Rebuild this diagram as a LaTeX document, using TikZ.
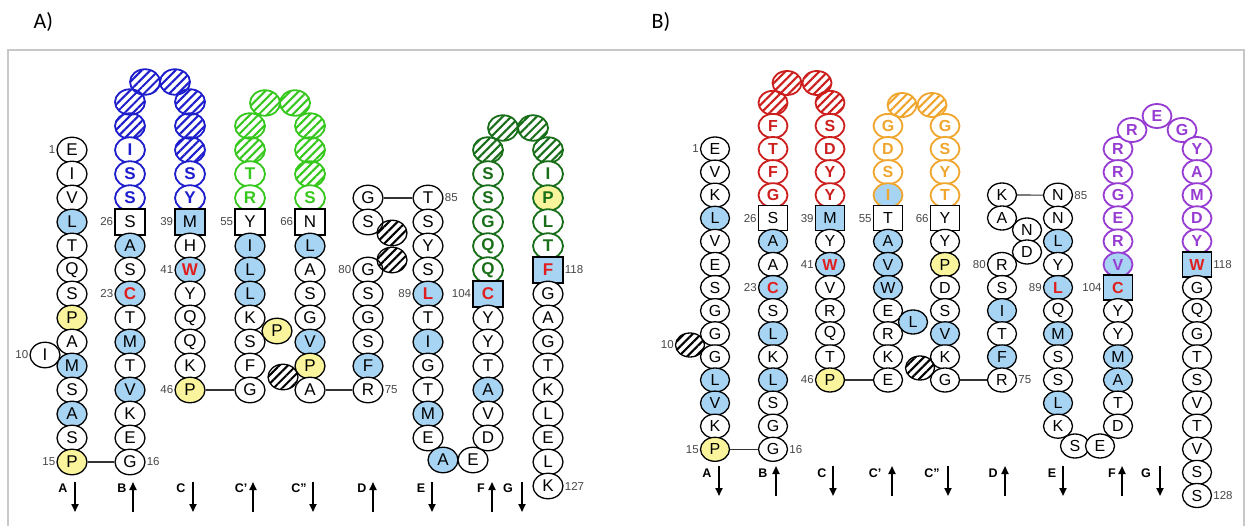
\documentclass[tikz,border=0pt]{standalone}
\usepackage{fontspec}
\setmainfont{Liberation Sans}
\newfontfamily\calib{Carlito}
\usetikzlibrary{shapes.geometric,patterns.meta,arrows.meta,positioning}
\definecolor{blueL}{RGB}{30,30,205}
\definecolor{lgreen}{RGB}{55,200,30}
\definecolor{dgreen}{RGB}{25,110,25}
\definecolor{redL}{RGB}{205,30,30}
\definecolor{orangeL}{RGB}{240,165,45}
\definecolor{purpleL}{RGB}{150,60,210}
\definecolor{lb}{RGB}{166,212,242}
\definecolor{yl}{RGB}{250,245,156}
\definecolor{redT}{RGB}{225,30,30}
\definecolor{numgray}{RGB}{70,70,70}
\definecolor{frameG}{RGB}{200,200,200}
\tikzset{
  res/.style={ellipse,draw,line width=1.3pt,inner sep=0pt,minimum width=\rw,minimum height=\rh,font=\lsz},
  r/.style={res,fill=white},
  rb/.style={res,fill=lb},
  ry/.style={res,fill=yl},
  rbr/.style={res,fill=lb,text=redT,font=\lsz\bfseries},
  bx/.style={rectangle,draw,line width=1.4pt,inner sep=0pt,minimum width=\bw,minimum height=\bh,fill=white,font=\lsz},
  bxb/.style={bx,fill=lb},
  bxr/.style={bx,fill=lb,text=redT,font=\lsz\bfseries},
  lp/.style={res,draw=#1,text=#1,line width=1.8pt,font=\lsz\bfseries,fill=white},
  hat/.style={res,draw=#1,line width=1.8pt,pattern={Lines[angle=45,distance=6pt,line width=2.1pt]},pattern color=#1},
  lB/.style={lp=blueL}, hB/.style={hat=blueL},
  lG/.style={lp=lgreen}, hG/.style={hat=lgreen},
  lD/.style={lp=dgreen}, hD/.style={hat=dgreen},
  lDy/.style={lp=dgreen,fill=yl},
  lR/.style={lp=redL}, hR/.style={hat=redL},
  lO/.style={lp=orangeL}, hO/.style={hat=orangeL},
  lOb/.style={lp=orangeL,fill=lb},
  lP/.style={lp=purpleL}, hP/.style={hat=purpleL},
  lPb/.style={lp=purpleL,fill=lb},
  hK/.style={hat=black,line width=1.3pt},
  num/.style={font=\fontsize{11.5}{11.5}\selectfont,text=numgray,inner sep=1pt},
  lab/.style={font=\fontsize{12.5}{12.5}\selectfont\bfseries,inner sep=0pt},
  arr/.style={line width=1.8pt,-{Triangle[length=8pt,width=7pt]}},
  link/.style={line width=1.2pt,draw=black!80}
}
\begin{document}
\begin{tikzpicture}[x=1pt,y=-1pt]
\useasboundingbox (0,0) rectangle (1249,526);
\draw[frameG,line width=2pt] (8,560) -- (8,50) -- (1244,50) -- (1244,560);
\node[font=\calib\fontsize{22}{22}\selectfont,anchor=west] (labA) at (30,22) {A)};
\node[font=\calib\fontsize{22}{22}\selectfont,anchor=west] (labB) at (648,22) {B)};

%================ PANEL A =================
\begin{scope}
\def\rw{30pt}\def\rh{25.5pt}\def\bw{30pt}\def\bh{26pt}
\def\lsz{\fontsize{17}{17}\selectfont}
% column A
\node[r] (aAx) at (45,355) {I};
\foreach \t/\s [count=\i from 0] in {E/r,I/r,V/r,L/rb,T/r,Q/r,S/r,P/ry,A/r,M/rb,S/r,A/rb,S/r,P/ry}
  \node[\s] (aA\i) at (72,{150+24*\i}) {\t};
% column B
\foreach \t/\s [count=\i from -2] in {/hB,/hB,I/lB,S/lB,S/lB,S/bx,A/rb,S/r,C/rbr,T/r,M/rb,T/r,V/rb,K/r,E/r,G/r}
  \node[\s] (aB\i) at (130,{150+24*\i}) {\t};
\node[hB] (aBt1) at (145,82) {};
\node[hB] (aBt2) at (175,82) {};
% column C
\foreach \t/\s [count=\i from -2] in {/hB,/hB,/hB,S/lB,Y/lB,M/bxb,H/r,W/rbr,Y/r,Q/r,Q/r,K/r,P/ry}
  \node[\s] (aC\i) at (190,{150+24*\i}) {\t};
% column C'
\foreach \t/\s [count=\i from -1] in {/hG,/hG,T/lG,R/lG,Y/bx,I/rb,L/rb,L/rb,K/r,S/r,F/r,G/r}
  \node[\s] (aCp\i) at (250,{150+24*\i}) {\t};
\node[hG] (aCt1) at (265,103) {};
\node[hG] (aCt2) at (295,103) {};
% column C''
\foreach \t/\s [count=\i from -1] in {/hG,/hG,/hG,S/lG,N/bx,L/rb,A/r,S/r,G/r,V/rb,P/ry,A/r}
  \node[\s] (aCpp\i) at (310,{150+24*\i}) {\t};
\node[ry] (aCpx) at (277,331) {P};
\node[hK] (aCh) at (283,377) {};
% column D
\node[r] (aD2) at (368,198) {G};
\node[r] (aD3) at (368,222) {S};
\foreach \t/\s [count=\i from 5] in {G/r,S/r,G/r,S/r,F/rb,R/r}
  \node[\s] (aD\i) at (368,{150+24*\i}) {\t};
\node[hK] (aDh1) at (392,233) {};
\node[hK] (aDh2) at (392,260) {};
% column E
\foreach \t/\s [count=\i from 2] in {T/r,S/r,Y/r,S/r,L/rbr,T/r,I/rb,G/r,T/r,M/rb,E/r}
  \node[\s] (aE\i) at (428,{150+24*\i}) {\t};
\node[rb] (aEb1) at (443,460) {A};
\node[r] (aEb2) at (473,460) {E};
% column F
\foreach \t/\s [count=\i from 0] in {/hD,S/lD,S/lD,G/lD,Q/lD,Q/lD,C/bxr,Y/r,Y/r,T/r,A/rb,V/r,D/r}
  \node[\s] (aF\i) at (488,{150+24*\i}) {\t};
\node[hD] (aFt1) at (503,128) {};
\node[hD] (aFt2) at (533,128) {};
% column G
\foreach \t/\s [count=\i from 0] in {/hD,I/lD,P/lDy,L/lD,T/lD,F/bxr,G/r,A/r,G/r,T/r,K/r,L/r,E/r,L/r,K/r}
  \node[\s] (aG\i) at (548,{150+24*\i}) {\t};
% links
\draw[link] (aA13) -- (aB13);
\draw[link] (aC10) -- (aCp10);
\draw[link] (aCpp10) -- (aD10);
\draw[link] (aD2) -- (aE2);
% numbers
\node[num,left=0pt of aA0] (naA1) {1};
\node[num,left=0pt of aAx] (naA10) {10};
\node[num,left=0pt of aA13] (naA15) {15};
\node[num,left=0pt of aB3] (naB26) {26};
\node[num,left=0pt of aB6] (naB23) {23};
\node[num,right=0pt of aB13] (naB16) {16};
\node[num,left=0pt of aC3] (naC39) {39};
\node[num,left=0pt of aC5] (naC41) {41};
\node[num,left=0pt of aC10] (naC46) {46};
\node[num,left=0pt of aCp3] (naC55) {55};
\node[num,left=0pt of aCpp3] (naC66) {66};
\node[num,left=0pt of aD5] (naD80) {80};
\node[num,right=0pt of aD10] (naD75) {75};
\node[num,right=0pt of aE2] (naE85) {85};
\node[num,left=0pt of aE6] (naE89) {89};
\node[num,left=0pt of aF6] (naF104) {104};
\node[num,right=0pt of aG5] (naG118) {118};
\node[num,right=0pt of aG14] (naG127) {127};
% strand labels and arrows
\foreach \n/\t/\lx/\ax/\d in {A/A/63/75/d,B/B/122/133/u,C/C/181/193/d,Cp/C'/241/253/u,Cpp/C''/299/313/d,D/D/362/373/u,E/E/421/432/d,F/F/481/492/u,G/G/508/522/d}{
  \node[lab] (laA\n) at (\lx,488) {\t};
  \coordinate (arA\n1) at (\ax,482);
  \coordinate (arA\n2) at (\ax,512);
  \if\d u \draw[arr] (arA\n2) -- (arA\n1); \else \draw[arr] (arA\n1) -- (arA\n2); \fi
}
\end{scope}

%================ PANEL B =================
\begin{scope}
\def\rw{29pt}\def\rh{24pt}\def\bw{29pt}\def\bh{25pt}
\def\lsz{\fontsize{16}{16}\selectfont}
% column A
\node[hK] (bAx) at (690,345) {};
\foreach \t/\s [count=\i from 0] in {E/r,V/r,K/r,L/rb,V/r,E/r,S/r,G/r,G/r,G/r,L/rb,V/rb,K/r,P/ry}
  \node[\s] (bA\i) at (715,{149+23.1*\i}) {\t};
% column B
\foreach \t/\s [count=\i from -2] in {/hR,F/lR,T/lR,F/lR,G/lR,S/bx,A/rb,A/r,C/rbr,S/r,L/rb,K/r,L/rb,S/r,G/r,G/r}
  \node[\s] (bB\i) at (773,{149+23.1*\i}) {\t};
\node[hR] (bBt1) at (787,83) {};
\node[hR] (bBt2) at (817,83) {};
% column C
\foreach \t/\s [count=\i from -2] in {/hR,S/lR,D/lR,Y/lR,Y/lR,M/bxb,Y/r,W/rbr,V/r,R/r,Q/r,T/r,P/ry}
  \node[\s] (bC\i) at (830,{149+23.1*\i}) {\t};
% column C'
\foreach \t/\s [count=\i from -1] in {G/lO,D/lO,S/lO,I/lOb,T/bx,A/rb,V/rb,W/rb,E/r,R/r,K/r,E/r}
  \node[\s] (bCp\i) at (888,{149+23.1*\i}) {\t};
\node[hO] (bCt1) at (902,105) {};
\node[hO] (bCt2) at (932,105) {};
% column C''
\foreach \t/\s [count=\i from -1] in {G/lO,S/lO,Y/lO,T/lO,Y/bx,Y/r,P/ry,D/r,S/r,V/rb,K/r,G/r}
  \node[\s] (bCpp\i) at (945,{149+23.1*\i}) {\t};
\node[rb] (bCpx) at (913,322) {L};
\node[hK] (bCh) at (920,368) {};
% column D
\node[r] (bD2) at (1002,195) {K};
\node[r] (bD3) at (1002,218) {A};
\foreach \t/\s [count=\i from 5] in {R/r,S/r,I/rb,T/r,F/rb,R/r}
  \node[\s] (bD\i) at (1002,{149+23.1*\i}) {\t};
\node[r] (bDn) at (1027,230) {N};
\node[r] (bDd) at (1027,252) {D};
% column E
\foreach \t/\s [count=\i from 2] in {N/r,N/r,L/rb,Y/r,L/rbr,Q/r,M/rb,S/r,S/r,L/rb,K/r}
  \node[\s] (bE\i) at (1058,{149+23.1*\i}) {\t};
\node[r] (bEb1) at (1075,446) {S};
\node[r] (bEb2) at (1100,446) {E};
% column F
\foreach \t/\s [count=\i from 0] in {R/lP,R/lP,G/lP,E/lP,R/lP,V/lPb,C/bxr,Y/r,Y/r,M/rb,A/rb,T/r,D/r}
  \node[\s] (bF\i) at (1118,{149+23.1*\i}) {\t};
\node[lP] (bFt1) at (1132,130) {R};
\node[lP] (bFt3) at (1182,130) {G};
\node[lP] (bFt2) at (1157,116) {E};
% column G
\foreach \t/\s [count=\i from 0] in {Y/lP,A/lP,M/lP,D/lP,Y/lP,W/bxr,G/r,Q/r,G/r,T/r,S/r,V/r,T/r,V/r,S/r,S/r}
  \node[\s] (bG\i) at (1197,{149+23.1*\i}) {\t};
% links
\draw[link] (bA13) -- (bB13);
\draw[link] (bC10) -- (bCp10);
\draw[link] (bCpp10) -- (bD10);
\draw[link] (bD2) -- (bE2);
% numbers
\node[num,left=0pt of bA0] (nbA1) {1};
\node[num,left=0pt of bAx] (nbA10) {10};
\node[num,left=0pt of bA13] (nbA15) {15};
\node[num,left=0pt of bB3] (nbB26) {26};
\node[num,left=0pt of bB6] (nbB23) {23};
\node[num,right=0pt of bB13] (nbB16) {16};
\node[num,left=0pt of bC3] (nbC39) {39};
\node[num,left=0pt of bC5] (nbC41) {41};
\node[num,left=0pt of bC10] (nbC46) {46};
\node[num,left=0pt of bCp3] (nbC55) {55};
\node[num,left=0pt of bCpp3] (nbC66) {66};
\node[num,left=0pt of bD5] (nbD80) {80};
\node[num,right=0pt of bD10] (nbD75) {75};
\node[num,right=0pt of bE2] (nbE85) {85};
\node[num,left=0pt of bE6] (nbE89) {89};
\node[num,left=0pt of bF6] (nbF104) {104};
\node[num,right=0pt of bG5] (nbG118) {118};
\node[num,right=0pt of bG15] (nbG128) {128};
% strand labels and arrows
\foreach \n/\t/\lx/\ax/\d in {A/A/707/719/d,B/B/763/776/u,C/C/822/833/d,Cp/C'/875/892/u,Cpp/C''/932/948/d,D/D/993/1005/u,E/E/1052/1063/d,F/F/1112/1122/u,G/G/1146/1160/d}{
  \node[lab] (lbB\n) at (\lx,473) {\t};
  \coordinate (arB\n1) at (\ax,466);
  \coordinate (arB\n2) at (\ax,496);
  \if\d u \draw[arr] (arB\n2) -- (arB\n1); \else \draw[arr] (arB\n1) -- (arB\n2); \fi
}
\end{scope}
\end{tikzpicture}
\end{document}
